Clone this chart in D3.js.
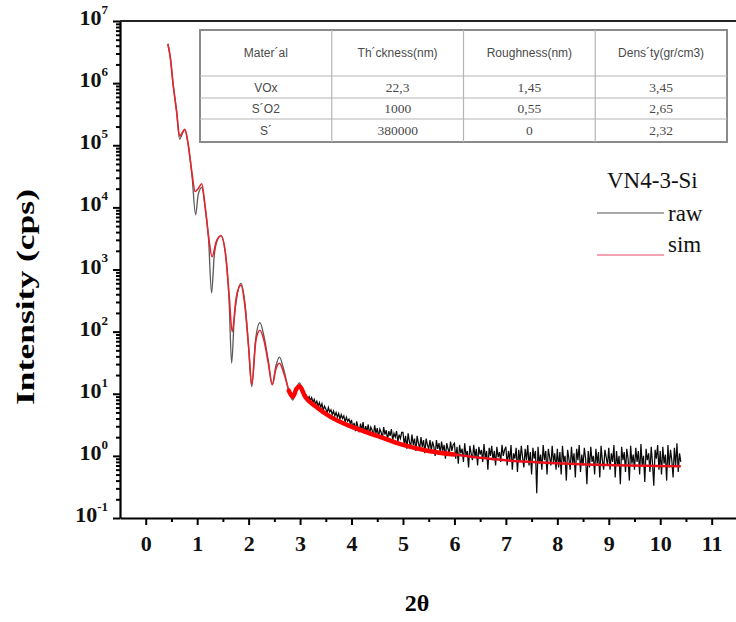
<!DOCTYPE html>
<html>
<head>
<meta charset="utf-8">
<script src="https://cdn.jsdelivr.net/npm/d3@7"></script>
<style>
  body { margin: 0; background: #fff; }
  svg { display: block; }
</style>
</head>
<body>
<script>
var W = 736, H = 622;

// simulated curve (2theta, cps)
var simX = [0.43, 0.48, 0.53, 0.60, 0.66, 0.70, 0.76, 0.82, 0.90, 0.96, 1.02, 1.09, 1.15, 1.22, 1.29, 1.37, 1.46,
  1.55, 1.62, 1.68, 1.76, 1.85, 1.93, 2.00, 2.06, 2.14, 2.22, 2.30, 2.38, 2.46, 2.53, 2.60, 2.68, 2.78, 2.86,
  2.93, 2.99, 3.10, 3.30, 3.60, 4.00, 4.50, 5.00, 5.50, 6.00, 6.50, 7.00, 8.00, 9.00, 10.40];
var simY = [4.3e6, 2.5e6, 1.0e6, 3.5e5, 1.4e5, 1.55e5, 1.8e5, 1.1e5, 3.5e4, 1.8e4, 2.0e4, 2.4e4, 1.1e4, 3500, 1600, 2800, 3500,
  1800, 400, 100, 355, 560, 250, 56, 14, 71, 105, 71, 32, 14, 25, 31, 22, 11.2, 8.9,
  12, 13.2, 8.9, 6.3, 4.2, 2.95, 2.1, 1.5, 1.2, 1.05, 0.93, 0.85, 0.76, 0.71, 0.68];

// measured curve, smooth part
var rawX = [0.43, 0.48, 0.53, 0.60, 0.66, 0.70, 0.76, 0.82, 0.90, 0.97, 1.02, 1.09, 1.15, 1.22, 1.28, 1.33, 1.38, 1.46,
  1.55, 1.62, 1.67, 1.72, 1.78, 1.85, 1.93, 2.00, 2.06, 2.14, 2.22, 2.30, 2.38, 2.46, 2.53, 2.60, 2.68, 2.78,
  2.86, 2.93, 2.99, 3.05, 3.10];
var rawY = [4.3e6, 2.5e6, 1.0e6, 3.5e5, 1.25e5, 1.45e5, 1.8e5, 1.1e5, 3.2e4, 7600, 1.6e4, 2.1e4, 1.1e4, 3200, 420, 1600, 2800, 3500,
  1800, 320, 31, 160, 400, 600, 280, 56, 13, 80, 140, 83, 35, 14, 28, 39, 25, 11.2,
  7.9, 12.6, 15, 11.2, 9.8];

// measured curve, noisy part: one reading every 0.025 deg from 3.125
var noiseStart = 3.125, noiseStep = 0.025;
var rawNoise = [
  9.4, 8.2, 9.0, 7.8, 8.7, 7.3, 8.1, 6.8, 7.6, 6.3, 7.2, 6.0, 6.9, 5.4, 6.3, 5.7, 4.9, 6.0, 5.1, 5.5,
  4.6, 5.3, 4.4, 5.0, 4.2, 4.8, 3.9, 4.6, 4.0, 4.4, 3.5, 4.2, 3.6, 3.9, 3.3,
  3.8, 2.7, 3.4, 2.5, 3.6, 2.9, 2.4, 3.3, 2.6, 3.5, 2.3, 3.0, 2.5, 3.2, 2.2, 2.9, 2.6, 2.1, 3.1, 2.3,
  2.8, 2.0, 2.7, 2.4, 1.9, 2.9, 2.2, 2.6, 1.8, 2.5, 2.1, 2.7, 1.8, 2.3, 2.0, 2.5, 1.7, 2.2, 1.9, 2.4,
  2.4, 1.5, 2.1, 1.3, 2.3, 1.7, 1.4, 2.2, 1.5, 1.9, 1.2, 2.1, 1.6, 1.3, 2.0, 1.4, 1.8, 1.1, 1.9, 1.5,
  1.3, 1.8, 1.2, 1.7, 1.4, 1.0, 1.8, 1.3, 1.6, 1.1, 1.7, 1.2, 1.5, 0.9, 1.6, 1.3, 1.1, 1.7, 1.2, 1.5,
  1.6, 0.9, 1.4, 0.75, 1.5, 1.1, 1.3, 0.8, 1.6, 1.0, 1.2, 0.65, 1.45, 1.1, 0.85, 1.5, 0.95, 1.3, 0.7, 1.4,
  1.05, 1.25, 0.8, 1.55, 0.9, 1.2, 0.6, 1.35, 1.0, 1.45, 0.85, 1.2, 0.7, 1.4, 0.95, 1.15, 0.8, 1.5, 1.0, 1.25,
  1.4, 0.7, 1.2, 0.85, 1.5, 0.6, 1.1, 0.9, 1.35, 0.55, 1.25, 0.8, 1.45, 0.95, 0.65, 1.3, 0.85, 1.5, 0.7, 1.15,
  0.5, 1.35, 0.9, 1.2, 0.25, 1.4, 0.75, 1.05, 0.6, 1.5, 0.85, 1.2, 0.5, 1.3, 0.95, 0.7, 1.45, 0.8, 1.1, 0.6,
  1.3, 0.65, 1.15, 0.5, 1.45, 0.8, 1.0, 0.4, 1.25, 0.9, 0.6, 1.4, 0.75, 1.1, 0.45, 1.3, 0.85, 1.5, 0.55, 1.05,
  0.7, 1.35, 0.9, 0.35, 1.2, 0.65, 1.4, 0.8, 1.0, 0.5, 1.3, 0.75, 1.15, 0.45, 1.45, 0.85, 0.6, 1.25, 0.95, 0.7,
  1.35, 0.6, 1.1, 0.8, 1.5, 0.45, 1.2, 0.7, 1.0, 0.35, 1.4, 0.85, 1.15, 0.55, 1.3, 0.9, 0.4, 1.45, 0.75, 1.05,
  0.6, 1.35, 0.8, 1.2, 0.5, 1.55, 0.7, 1.0, 0.38, 1.3, 0.85, 1.1, 0.55, 1.4, 0.75, 0.33, 1.25, 0.9, 1.5, 0.6,
  1.2, 0.5, 1.4, 0.75, 1.05, 0.4, 1.5, 0.65, 1.25, 0.85, 0.45, 1.35, 0.7, 1.6, 0.55, 1.1, 0.8
];

var xTicks = [0, 1, 2, 3, 4, 5, 6, 7, 8, 9, 10, 11];
var yExps = [-1, 0, 1, 2, 3, 4, 5, 6, 7];

// fitted layer table
var tableHeaders = ["Mater\u00b4al", "Th\u00b4ckness(nm)", "Roughness(nm)", "Dens\u00b4ty(gr/cm3)"];
var materials = ["VOx", "S\u00b4O2", "S\u00b4"];
var thickness = ["22,3", "1000", "380000"];
var roughness = ["1,45", "0,55", "0"];
var density = ["3,45", "2,65", "2,32"];

var sampleName = "VN4-3-Si";
var seriesNames = ["raw", "sim"];

var serif = "'Times New Roman', 'Liberation Serif', serif";
var sans = "Arial, 'Liberation Sans', sans-serif";

var svg = d3.select("body").append("svg")
    .attr("width", W)
    .attr("height", H);

var plotLeft = 120, plotTop = 21, plotBottom = 518;
var x = d3.scaleLinear().domain([-0.5, 11.5]).range([plotLeft, plotLeft + 12 * 51.45]);
var y = d3.scaleLog().domain([0.1, 1e7]).range([plotBottom, plotTop]);

// curves
var rawPts = rawX.map(function (d, i) { return [d, rawY[i]]; });
var noisePts = [[rawX[rawX.length - 1], rawY[rawY.length - 1]]].concat(rawNoise.map(function (d, i) {
    return [noiseStart + i * noiseStep, d];
}));
var simPts = simX.map(function (d, i) { return [d, simY[i]]; });

var smooth = d3.line()
    .x(function (d) { return x(d[0]); })
    .y(function (d) { return y(d[1]); })
    .curve(d3.curveMonotoneX);
var straight = d3.line()
    .x(function (d) { return x(d[0]); })
    .y(function (d) { return y(d[1]); });

var plot = svg.append("g");

plot.append("path").attr("d", smooth(rawPts))
    .attr("fill", "none").attr("stroke", "#5a5a5a").attr("stroke-width", 1.3);
plot.append("path").attr("d", straight(noisePts))
    .attr("fill", "none").attr("stroke", "#0a0a0a").attr("stroke-width", 1.25);

// sim: thin at the top, a band where the fine SiO2 fringes pile up
plot.append("path").attr("d", smooth(simPts.filter(function (d) { return d[0] <= 2.8; })))
    .attr("fill", "none").attr("stroke", "#e3262e").attr("stroke-width", 1.6);
plot.append("path").attr("d", smooth(simPts.filter(function (d) { return d[0] >= 2.78 && d[0] <= 6.0; })))
    .attr("fill", "none").attr("stroke", "#f00").attr("stroke-width", 4.5)
    .attr("stroke-linecap", "round");
plot.append("path").attr("d", smooth(simPts.filter(function (d) { return d[0] >= 6.0; })))
    .attr("fill", "none").attr("stroke", "#e8101c").attr("stroke-width", 2.5);

// axes
var xAxis = d3.axisBottom(x).tickValues(xTicks).tickSize(7).tickSizeOuter(0).tickPadding(10)
    .tickFormat(d3.format("d"));
var xMinor = d3.axisBottom(x).tickValues(xTicks.map(function (d) { return d + 0.5; }).filter(function (d) { return d < 11.5; }))
    .tickSize(4).tickSizeOuter(0).tickFormat("");

var gx = svg.append("g").attr("transform", "translate(0," + plotBottom + ")").call(xAxis);
svg.append("g").attr("transform", "translate(0," + plotBottom + ")").call(xMinor)
    .select(".domain").remove();

var minor = [];
yExps.slice(0, -1).forEach(function (e) {
    for (var k = 2; k <= 9; k++) minor.push(k * Math.pow(10, e));
});
var yAxis = d3.axisLeft(y).tickValues(yExps.map(function (e) { return Math.pow(10, e); }))
    .tickSize(7).tickSizeOuter(0).tickFormat("");
var yMinor = d3.axisLeft(y).tickValues(minor).tickSize(4).tickSizeOuter(0).tickFormat("");

var gy = svg.append("g").attr("transform", "translate(" + plotLeft + ",0)").call(yAxis);
svg.append("g").attr("transform", "translate(" + plotLeft + ",0)").call(yMinor)
    .select(".domain").remove();

svg.selectAll(".domain").attr("stroke-width", 2.2);
svg.selectAll(".tick line").attr("stroke-width", 2);

gx.selectAll(".tick text")
    .attr("font-family", serif).attr("font-weight", "bold").attr("font-size", 22).attr("fill", "#111");

// decade labels with superscript
var ylab = gy.selectAll(".tick").append("text")
    .attr("x", -12).attr("dy", "0.35em")
    .attr("text-anchor", "end")
    .attr("font-family", serif).attr("font-weight", "bold").attr("fill", "#111");
ylab.append("tspan").attr("font-size", 22).text("10");
ylab.append("tspan").attr("font-size", 13).attr("dy", "-0.85em")
    .text(function (d) { return Math.round(Math.log10(d)); });

// top frame
svg.append("line").attr("x1", plotLeft).attr("x2", W).attr("y1", plotTop).attr("y2", plotTop)
    .attr("stroke", "#222").attr("stroke-width", 2.2);

// axis titles
svg.append("text")
    .attr("transform", "translate(34,297) rotate(-90)")
    .attr("text-anchor", "middle")
    .attr("font-family", serif).attr("font-weight", "bold").attr("font-size", 25)
    .attr("textLength", 216).attr("lengthAdjust", "spacingAndGlyphs")
    .text("Intensity (cps)");
svg.append("text")
    .attr("x", 417).attr("y", 611)
    .attr("text-anchor", "middle")
    .attr("font-family", serif).attr("font-weight", "bold").attr("font-size", 24)
    .text("2\u03b8");

// table
var tx = 200, ty = 30, colW = 131.75;
var rowEdges = [30, 76, 98, 119, 142];
var tbl = svg.append("g");
tbl.append("rect").attr("x", tx).attr("y", ty).attr("width", 4 * colW).attr("height", rowEdges[4] - ty)
    .attr("fill", "#fff").attr("stroke", "#8a8a8a").attr("stroke-width", 2);
rowEdges.slice(1, -1).forEach(function (r) {
    tbl.append("line").attr("x1", tx).attr("x2", tx + 4 * colW).attr("y1", r).attr("y2", r)
        .attr("stroke", "#b5b5b5").attr("stroke-width", 1.2);
});
[1, 2, 3].forEach(function (c) {
    tbl.append("line").attr("x1", tx + c * colW).attr("x2", tx + c * colW).attr("y1", ty).attr("y2", rowEdges[4])
        .attr("stroke", "#b5b5b5").attr("stroke-width", 1.2);
});
tbl.selectAll("text.h").data(tableHeaders).enter().append("text")
    .attr("x", function (d, i) { return tx + (i + 0.5) * colW; })
    .attr("y", 57)
    .attr("text-anchor", "middle")
    .attr("font-family", sans).attr("font-size", 12).attr("fill", "#4a4a4a")
    .text(function (d) { return d; });
var cols = [materials, thickness, roughness, density];
cols.forEach(function (col, c) {
    tbl.selectAll("text.c" + c).data(col).enter().append("text")
        .attr("x", tx + (c + 0.5) * colW)
        .attr("y", function (d, i) { return (rowEdges[i + 1] + rowEdges[i + 2]) / 2 + 4.5; })
        .attr("text-anchor", "middle")
        .attr("font-family", c === 0 ? sans : serif)
        .attr("font-size", c === 0 ? 12 : 13.5)
        .attr("fill", "#4a4a4a")
        .text(function (d) { return d; });
});

// legend
var lg = svg.append("g");
lg.append("text").attr("x", 607).attr("y", 188)
    .attr("font-family", serif).attr("font-size", 23).attr("fill", "#111").text(sampleName);
var legColors = ["#a8a8a8", "#f4a3b3"];
var legY = [213, 255];
seriesNames.forEach(function (s, i) {
    lg.append("line").attr("x1", 597).attr("x2", 664).attr("y1", legY[i]).attr("y2", legY[i])
        .attr("stroke", legColors[i]).attr("stroke-width", 2.2);
    lg.append("text").attr("x", 668).attr("y", i === 0 ? 221 : 252)
        .attr("font-family", serif).attr("font-size", 23).attr("fill", "#111").text(s);
});
</script>
</body>
</html>
